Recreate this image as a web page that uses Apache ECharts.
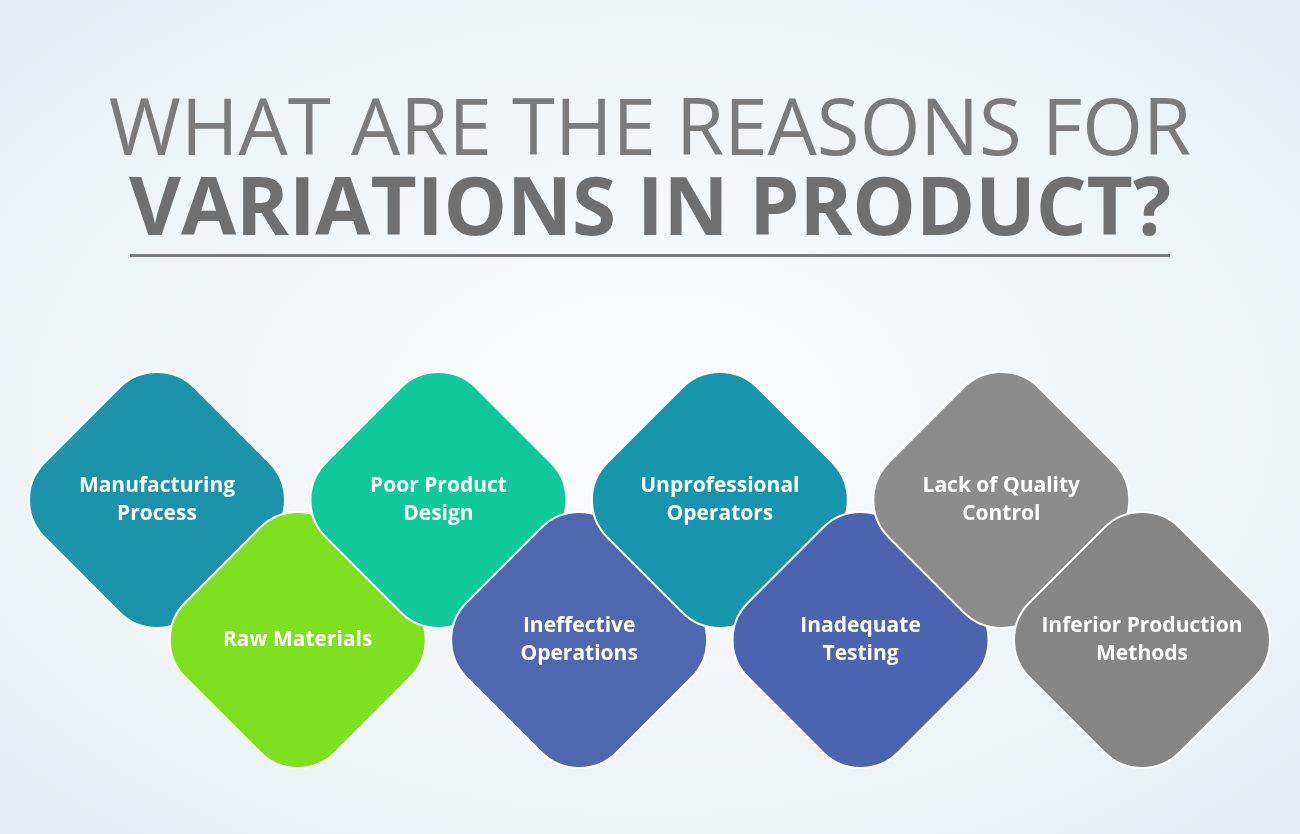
<!DOCTYPE html>
<html>
<head>
<meta charset="utf-8">
<script src="https://cdn.jsdelivr.net/npm/echarts@6/dist/echarts.min.js"></script>
<style>
  html, body { margin: 0; padding: 0; }
  #chart { width: 1300px; height: 834px; background: radial-gradient(ellipse at center, #fbfcfd 0%, #eef3f6 70%, #e4ecf1 100%); }
</style>
</head>
<body>
<div id="chart"></div>
<script>
// data
var numbers = ['01', '02', '03', '04', '05', '06', '07', '08'];
var reasons = ['Manufacturing\nProcess', 'Raw Materials', 'Poor Product\nDesign', 'Ineffective\nOperations',
  'Unprofessional\nOperators', 'Inadequate\nTesting', 'Lack of Quality\nControl', 'Inferior Production\nMethods'];
var rows = [1, 0, 1, 0, 1, 0, 1, 0]; // 1 = upper row, 0 = lower row
var colors = ['#1a93ab', '#7ee01f', '#10c99b', '#4f67ae', '#1795ad', '#4c63b0', '#8c8c8c', '#858585'];

var chart = echarts.init(document.getElementById('chart'));

var points = numbers.map(function (n, i) {
  return { value: [i, rows[i]], name: reasons[i], num: n, itemStyle: { color: colors[i] } };
});

var option = {
  animation: false,
  grid: { left: 157, right: 158, top: 500, height: 140 },
  xAxis: { type: 'value', min: 0, max: 7, show: false },
  yAxis: { type: 'value', min: 0, max: 1, show: false },
  graphic: [
    { type: 'text', left: 'center', top: 94,
      style: { text: 'WHAT ARE THE REASONS FOR', fontSize: 78, fontFamily: 'Open Sans', fontWeight: 400, fill: '#7b7b7b' } },
    { type: 'text', left: 'center', top: 172,
      style: { text: 'VARIATIONS IN PRODUCT?', fontSize: 80, fontFamily: 'Open Sans', fontWeight: 'bold', fill: '#6f6f6f' } },
    { type: 'rect', shape: { x: 130, y: 254, width: 1040, height: 3 }, style: { fill: '#7a7a7a' } }
  ],
  series: [{
    type: 'scatter',
    symbol: 'roundRect',
    symbolSize: 212,
    symbolRotate: 45,
    data: points,
    itemStyle: { opacity: 1, borderColor: '#ffffff', borderWidth: 2 },
    label: {
      show: true, position: 'inside', offset: [0, 0],
      formatter: function (p) { return p.name; },
      color: '#fff', fontSize: 21, fontWeight: 'bold', fontFamily: 'Open Sans', lineHeight: 28
    }
  }, {
    type: 'scatter',
    symbol: 'none',
    symbolSize: 1,
    data: points,
    label: {
      show: true, position: 'inside', offset: [0, -64],
      formatter: function (p) { return p.data.num; },
      color: '#fff', fontSize: 42, fontWeight: 'bold', fontFamily: 'Open Sans'
    }
  }]
};

chart.setOption(option);
</script>
</body>
</html>
